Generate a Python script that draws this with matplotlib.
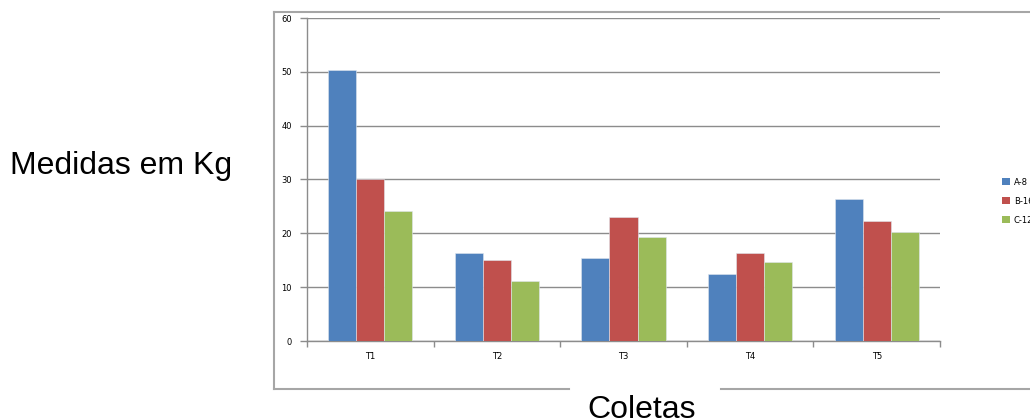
import matplotlib.pyplot as plt
from matplotlib.lines import Line2D
from matplotlib.patches import Patch
import numpy as np

# coletas e medidas (kg) por tratamento
coletas = ['T1', 'T2', 'T3', 'T4', 'T5']
series = ['A-8', 'B-16', 'C-12']
a8 = [50.3, 16.3, 15.4, 12.5, 26.3]
b16 = [30.0, 15.1, 23.1, 16.3, 22.3]
c12 = [24.2, 11.1, 19.3, 14.6, 20.2]
cores = ['#4F81BD', '#C0504D', '#9BBB59']
yticks = [0, 10, 20, 30, 40, 50, 60]

W, H = 1030, 419
fig = plt.figure(figsize=(W / 100, H / 100), dpi=100)
ax = fig.add_axes([307 / W, (H - 341) / H, 633 / W, 323 / H])

x = np.arange(len(coletas))
larg = 0.222
for i, (vals, cor) in enumerate(zip([a8, b16, c12], cores)):
    ax.bar(x + (i - 1) * larg, vals, width=larg, color=cor,
           edgecolor='#dfe6ee', linewidth=0.4, zorder=3)

ax.set_xlim(-0.5, len(coletas) - 0.5)
ax.set_ylim(0, 60)
ax.set_yticks(yticks)
ax.set_yticklabels([str(v) for v in yticks])
ax.yaxis.grid(True, color='#8c8c8c', linewidth=1.0, zorder=0)

# ticks do eixo x nos limites de cada categoria
ax.set_xticks(np.arange(len(coletas) + 1) - 0.5)
ax.set_xticklabels([])
ax.set_xticks(x, minor=True)
ax.set_xticklabels(coletas, minor=True)
ax.tick_params(axis='x', which='minor', length=0, pad=8, labelsize=6)
ax.tick_params(axis='x', which='major', length=4, color='#8c8c8c', width=1)
ax.tick_params(axis='y', length=5, color='#8c8c8c', width=1, labelsize=6, pad=6)

for s in ['top', 'right']:
    ax.spines[s].set_visible(False)
for s in ['left', 'bottom']:
    ax.spines[s].set_color('#8c8c8c')
    ax.spines[s].set_linewidth(1.0)

# moldura do gráfico
def linha(x0, y0, x1, y1):
    fig.add_artist(Line2D([x0 / W, x1 / W], [1 - y0 / H, 1 - y1 / H],
                          color='#a6a6a6', linewidth=1.5))

linha(274, 12, W, 12)
linha(274, 12, 274, 389)
linha(274, 389, 569, 389)
linha(721, 389, W, 389)

fig.text(10 / W, 1 - 166 / H, 'Medidas em Kg', fontsize=23,
         family='Liberation Sans', va='center', ha='left')
fig.text(642 / W, 1 - 418 / H, 'Coletas', fontsize=23,
         family='Liberation Sans', va='baseline', ha='center')

handles = [Patch(facecolor=c, edgecolor='none') for c in cores]
fig.legend(handles, series, loc='center left',
           bbox_to_anchor=(1002 / W, 1 - 201 / H), frameon=False,
           fontsize=6, handlelength=0.9, handleheight=0.9,
           handletextpad=0.5, labelspacing=1.2, borderpad=0,
           borderaxespad=0)

fig.savefig('out.png', dpi=100)
